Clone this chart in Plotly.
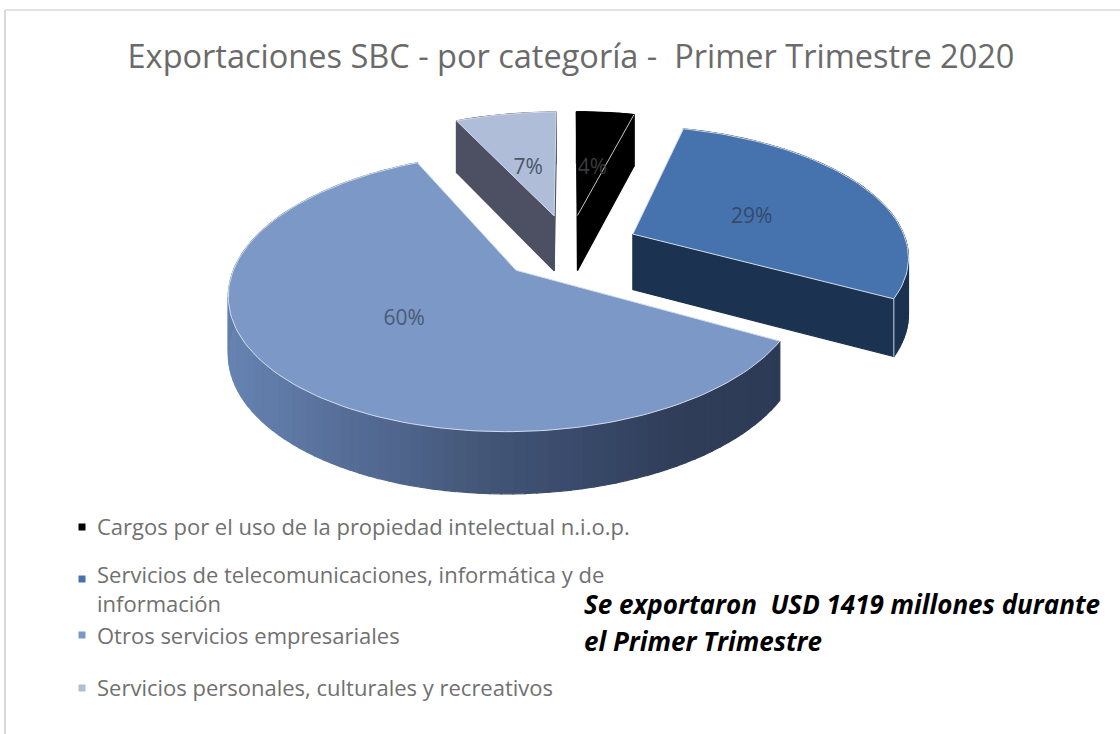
import math
import plotly.graph_objects as go

TITLE = "Exportaciones SBC - por categoría -  Primer Trimestre 2020"
categories = ["Cargos por el uso de la propiedad intelectual n.i.o.p.",
              "Servicios de telecomunicaciones, informática y de<br>información",
              "Otros servicios empresariales",
              "Servicios personales, culturales y recreativos"]
shares = [4, 29, 60, 7]
top_colors = ["#000000", "#4673AE", "#7C98C6", "#AFBDD9"]
cut_colors = ["#000000", "#1B3250", "#2C3A55", "#4C5062"]
label_colors = ["#3A3A3A", "#34496B", "#4A5A78", "#4A5568"]
label_dy = [8, 8, 0, 7]
wall_stops = [[(0, "#000000"), (360, "#000000")],
              [(0, "#1B3250"), (360, "#1B3250")],
              [(118, "#2D3A55"), (150, "#303E5A"), (170, "#3A4B6C"), (185, "#445778"),
               (200, "#50668E"), (225, "#5F7AA6"), (250, "#6783B2"), (275, "#5F7AA8"), (340, "#5F7AA8")],
              [(0, "#4C5062"), (360, "#4C5062")]]
legend_y = [529, 592, 638, 690]
marker_y = [527, 579, 635, 688]
NOTE = ["Se exportaron  USD 1419 millones durante", "el Primer Trimestre"]

# projection of the tilted pie
CX, CY, A, B, P, EXPLODE, DEPTH = 569, 247, 275, 128.6, 0.154, 0.257, 56


def project(X, Y, down=False):
    s = 1 / (1 + P * Y)
    x = CX + A * X * s
    y = CY - B * Y * s
    if down:
        y += DEPTH + (s - 1) * 28
    return x, y


def hex2rgb(c):
    return [int(c[i:i + 2], 16) for i in (1, 3, 5)]


def wall_color(stops, t):
    if t <= stops[0][0]:
        return stops[0][1]
    for (a, ca), (b, cb) in zip(stops, stops[1:]):
        if t <= b:
            f = (t - a) / (b - a)
            r = [round(u + (v - u) * f) for u, v in zip(hex2rgb(ca), hex2rgb(cb))]
            return "rgb(%d,%d,%d)" % tuple(r)
    return stops[-1][1]


def poly(xs, ys, color, line=None, width=0):
    return go.Scatter(x=xs + xs[:1], y=ys + ys[:1], mode="lines", fill="toself", fillcolor=color,
                      line=dict(color=line or color, width=width if line else 1.2),
                      hoverinfo="skip", showlegend=False)


fig = go.Figure()
total = sum(shares)
start = 0.0
slices = []
for i, v in enumerate(shares):
    t0, t1 = start, start + 360 * v / total
    start = t1
    slices.append((i, t0, t1))

label_x, label_y = [], []
for i, t0, t1 in slices:
    mid = math.radians((t0 + t1) / 2)
    ax, ay = EXPLODE * math.sin(mid), EXPLODE * math.cos(mid)
    pt = lambda t, r=1.0: (ax + r * math.sin(math.radians(t)), ay + r * math.cos(math.radians(t)))
    # outer wall
    n = max(4, int((t1 - t0) / 2))
    ts = [t0 + (t1 - t0) * k / n for k in range(n + 1)]
    for a, b in zip(ts, ts[1:]):
        p = [project(*pt(a)), project(*pt(b)), project(*pt(b), True), project(*pt(a), True)]
        fig.add_trace(poly([q[0] for q in p], [q[1] for q in p], wall_color(wall_stops[i], (a + b) / 2)))
    # cut faces that look towards the viewer
    apex, apex_d = project(ax, ay), project(ax, ay, True)
    for t, inner in ((t0, t0 + 3), (t1, t1 - 3)):
        e = project(*pt(t))
        m = project(*pt(inner))
        vx, vy = e[0] - apex[0], e[1] - apex[1]
        side_down = vx
        side_in = vx * (m[1] - apex[1]) - vy * (m[0] - apex[0])
        if side_down * side_in < 0:
            d = project(*pt(t), True)
            fig.add_trace(poly([apex[0], e[0], d[0], apex_d[0]], [apex[1], e[1], d[1], apex_d[1]], cut_colors[i]))
            if i == 1:
                fig.add_trace(go.Scatter(x=[e[0], d[0]], y=[e[1], d[1]], mode="lines",
                                         line=dict(color="#C9D6EC", width=1), hoverinfo="skip", showlegend=False))
    # top face
    n = max(6, int((t1 - t0) / 1.5))
    arc = [project(*pt(t0 + (t1 - t0) * k / n)) for k in range(n + 1)]
    xs = [apex[0]] + [q[0] for q in arc]
    ys = [apex[1]] + [q[1] for q in arc]
    fig.add_trace(poly(xs, ys, top_colors[i], line="#D3DDEE" if i else top_colors[i], width=1))
    if i == 0:
        fig.add_trace(go.Scatter(x=[apex[0], arc[-1][0]], y=[apex[1], arc[-1][1]], mode="lines",
                                 line=dict(color="#C8C8C8", width=1), hoverinfo="skip", showlegend=False))
    lab = project(*pt((t0 + t1) / 2, 0.5))
    label_x.append(lab[0])
    label_y.append(lab[1] + label_dy[i])

fig.add_trace(go.Scatter(x=label_x, y=label_y, mode="text", text=["%d%%" % v for v in shares],
                         textposition="middle center",
                         textfont=dict(family="Open Sans", size=21, color=label_colors),
                         hoverinfo="skip", showlegend=False))
# legend
fig.add_trace(go.Scatter(x=[82] * 4, y=marker_y, mode="markers",
                         marker=dict(symbol="square", size=7, color=top_colors), hoverinfo="skip", showlegend=False))
fig.add_trace(go.Scatter(x=[97] * 4, y=legend_y, mode="text", text=categories, textposition="middle right",
                         textfont=dict(family="Open Sans", size=22, color="#707070"),
                         hoverinfo="skip", showlegend=False))
fig.add_trace(go.Scatter(x=[584, 584], y=[607, 644], mode="text", text=["<b><i>%s</i></b>" % s for s in NOTE],
                         textposition="middle right",
                         textfont=dict(family="Open Sans", size=26, color="#000000"),
                         hoverinfo="skip", showlegend=False))
fig.add_trace(go.Scatter(x=[571], y=[60], mode="text", text=[TITLE], textposition="middle center",
                         textfont=dict(family="Open Sans", size=32.5, color="#6A6A6A"),
                         hoverinfo="skip", showlegend=False))

fig.update_layout(width=1120, height=734, margin=dict(l=0, r=0, t=0, b=0), autosize=False,
                  paper_bgcolor="white", plot_bgcolor="white", showlegend=False,
                  xaxis=dict(range=[0, 1120], visible=False, fixedrange=True),
                  yaxis=dict(range=[734, 0], visible=False, fixedrange=True),
                  shapes=[dict(type="line", x0=5, x1=5, y0=10, y1=734, line=dict(color="#D9D9D9", width=2)),
                          dict(type="line", x0=5, x1=1120, y0=10, y1=10, line=dict(color="#D9D9D9", width=1.5))])
fig.write_html("out.html", config=dict(displayModeBar=False),
               post_script="document.body.style.margin='0';document.body.style.overflow='hidden';")
